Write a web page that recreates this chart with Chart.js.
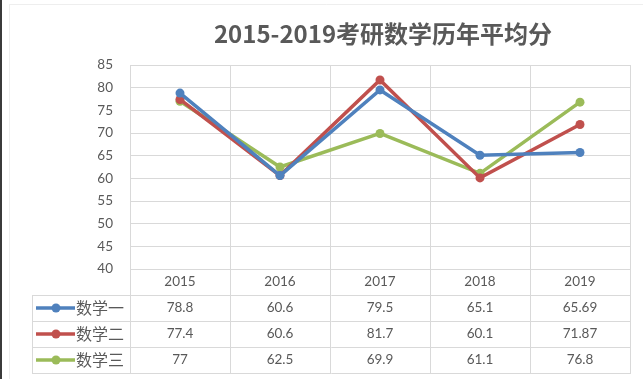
<!DOCTYPE html>
<html>
<head>
<meta charset="utf-8">
<script src="https://cdn.jsdelivr.net/npm/chart.js@4/dist/chart.umd.min.js"></script>
<style>
html,body{margin:0;padding:0;background:#fff;}
#wrap{position:relative;width:643px;height:379px;}
</style>
</head>
<body>
<div id="wrap"><canvas id="c" width="643" height="379"></canvas></div>
<script>
const titleText = '2015-2019考研数学历年平均分';
const years = ['2015', '2016', '2017', '2018', '2019'];
const seriesNames = ['数学一', '数学二', '数学三'];
const math1 = [78.8, 60.6, 79.5, 65.1, 65.69];
const math2 = [77.4, 60.6, 81.7, 60.1, 71.87];
const math3 = [77, 62.5, 69.9, 61.1, 76.8];
const math1Labels = ['78.8', '60.6', '79.5', '65.1', '65.69'];
const math2Labels = ['77.4', '60.6', '81.7', '60.1', '71.87'];
const math3Labels = ['77', '62.5', '69.9', '61.1', '76.8'];
const yMin = 40, yMax = 85, yStep = 5;

const colors = ['#4f81bd', '#c0504d', '#9bbb59'];
const gridColor = '#d9d9d9';
const textColor = '#595959';
const numFont = 'Lato, "Liberation Sans", sans-serif';
const cjkFont = '"Noto Sans CJK SC", sans-serif';

const seriesValues = [math1, math2, math3];
const seriesLabels = [math1Labels, math2Labels, math3Labels];

const tableRowH = 26;
const tableLeft = 32;

const tablePlugin = {
  id: 'tablePlugin',
  afterDraw(chart) {
    const ctx = chart.ctx;
    const ca = chart.chartArea;
    const xs = chart.scales.x;
    const headerBottom = xs.bottom;
    const tableBottom = headerBottom + tableRowH * seriesNames.length;
    ctx.save();
    // frame lines
    ctx.strokeStyle = '#3a3a3a';
    ctx.lineWidth = 2;
    ctx.beginPath(); ctx.moveTo(1, 0); ctx.lineTo(1, chart.height); ctx.stroke();
    ctx.strokeStyle = '#eeeeee';
    ctx.lineWidth = 1;
    ctx.beginPath(); ctx.moveTo(9.5, 4); ctx.lineTo(9.5, chart.height); ctx.stroke();
    ctx.beginPath(); ctx.moveTo(9.5, 4.5); ctx.lineTo(chart.width, 4.5); ctx.stroke();

    // title
    ctx.fillStyle = textColor;
    ctx.font = 'bold 24px ' + cjkFont;
    ctx.textAlign = 'center';
    ctx.textBaseline = 'middle';
    ctx.fillText(titleText, (ca.left + ca.right) / 2 + 3, 34);

    // table grid
    ctx.strokeStyle = gridColor;
    ctx.lineWidth = 1;
    const n = years.length;
    const colW = (ca.right - ca.left) / n;
    for (let i = 0; i <= n; i++) {
      const x = Math.round(ca.left + colW * i) + 0.5;
      ctx.beginPath(); ctx.moveTo(x, ca.bottom); ctx.lineTo(x, tableBottom); ctx.stroke();
    }
    ctx.beginPath(); ctx.moveTo(tableLeft + 0.5, headerBottom); ctx.lineTo(tableLeft + 0.5, tableBottom); ctx.stroke();
    for (let r = 0; r <= seriesNames.length; r++) {
      const y = Math.round(headerBottom + r * tableRowH) + 0.5;
      ctx.beginPath(); ctx.moveTo(tableLeft, y); ctx.lineTo(ca.right + 1, y); ctx.stroke();
    }

    // rows
    for (let r = 0; r < seriesNames.length; r++) {
      const cy = headerBottom + r * tableRowH + tableRowH / 2;
      // legend key
      ctx.strokeStyle = colors[r];
      ctx.lineWidth = 3.5;
      ctx.beginPath(); ctx.moveTo(36, cy); ctx.lineTo(75, cy); ctx.stroke();
      ctx.fillStyle = colors[r];
      ctx.beginPath(); ctx.arc(56, cy, 4.5, 0, Math.PI * 2); ctx.fill();
      ctx.fillStyle = textColor;
      ctx.font = '16px ' + cjkFont;
      ctx.textAlign = 'left';
      ctx.fillText(seriesNames[r], 76, cy);
      ctx.font = '13.5px ' + numFont;
      ctx.textAlign = 'center';
      for (let i = 0; i < n; i++) {
        ctx.fillText(seriesLabels[r][i], xs.getPixelForValue(i), cy);
      }
    }
    ctx.restore();
  }
};

new Chart(document.getElementById('c'), {
  type: 'line',
  data: {
    labels: years,
    datasets: seriesNames.map((name, k) => ({
      label: name,
      data: seriesValues[k],
      borderColor: colors[k],
      backgroundColor: colors[k],
      borderWidth: 3.5,
      pointRadius: 4.5,
      pointHoverRadius: 4.5,
      pointBorderWidth: 0,
      tension: 0
    }))
  },
  options: {
    responsive: false,
    animation: false,
    layout: { padding: { top: 65, right: 13, bottom: 84, left: 0 } },
    plugins: { legend: { display: false }, title: { display: false }, tooltip: { enabled: false } },
    scales: {
      x: {
        offset: true,
        grid: { offset: true, color: gridColor, drawTicks: false },
        border: { color: gridColor },
        ticks: { color: textColor, font: { family: numFont, size: 13.5 }, padding: 5 },
        afterFit(s) { s.height = 26; }
      },
      y: {
        min: yMin, max: yMax,
        grid: { color: gridColor, drawTicks: false },
        border: { color: gridColor },
        ticks: { stepSize: yStep, color: textColor, font: { family: numFont, size: 13.5 }, padding: 17 },
        afterFit(s) { s.width = 130; }
      }
    }
  },
  plugins: [tablePlugin]
});
</script>
</body>
</html>
